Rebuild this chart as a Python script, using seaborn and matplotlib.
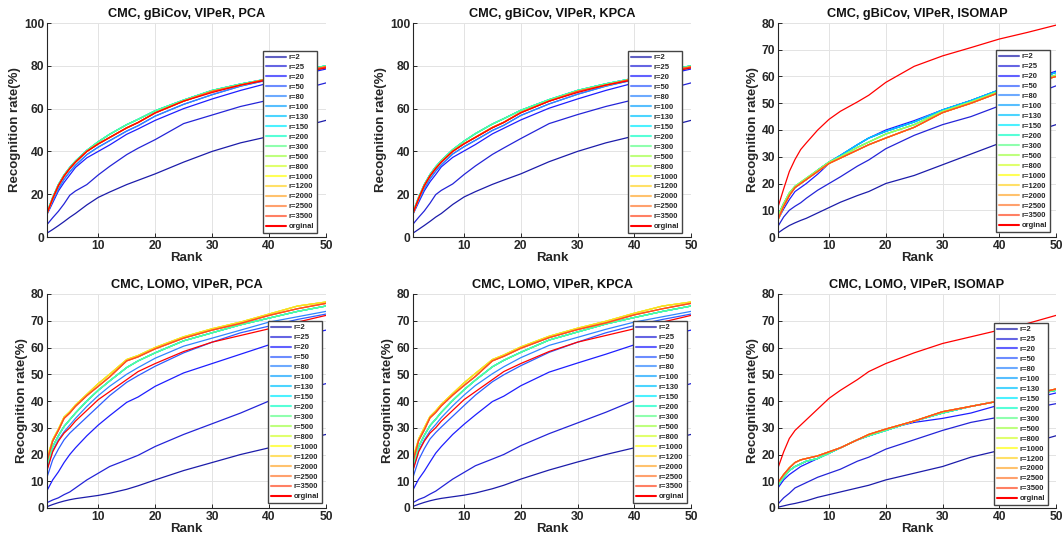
import matplotlib
matplotlib.use("Agg")
import matplotlib.pyplot as plt
import seaborn as sns
import pandas as pd

# ---------------- data ----------------
RANKS = [1, 2, 3, 4, 5, 6, 8, 10, 12, 15, 17, 20, 25, 30, 35, 40, 45, 50]

LABELS = ["r=2", "r=25", "r=20", "r=50", "r=80", "r=100", "r=130", "r=150", "r=200",
          "r=300", "r=500", "r=800", "r=1000", "r=1200", "r=2000", "r=2500", "r=3500", "orginal"]

COLORS = ["#1c1caa", "#2424d8", "#1e1eff", "#2e5cff", "#2f86ff", "#10a4ff", "#00c4ff",
          "#00ecff", "#10ffc8", "#60ff8c", "#a4ff48", "#d4ff30", "#ffff10", "#ffd428",
          "#ffa830", "#ff7a30", "#ff4a22", "#ff0000"]

TITLES = ["CMC, gBiCov, VIPeR, PCA", "CMC, gBiCov, VIPeR, KPCA", "CMC, gBiCov, VIPeR, ISOMAP",
          "CMC, LOMO, VIPeR, PCA", "CMC, LOMO, VIPeR, KPCA", "CMC, LOMO, VIPeR, ISOMAP"]

# gBiCov / PCA
gp_r2 = [1.8, 3.5, 5.3, 7.2, 9.2, 11.0, 15.0, 18.5, 21.0, 24.5, 26.5, 29.5, 35.0, 40.0, 44.0, 47.0, 51.0, 54.5]
gp_r25 = [5.8, 9.0, 12.0, 15.5, 19.5, 21.5, 24.5, 29.0, 33.0, 38.5, 41.5, 45.5, 53.0, 57.0, 61.0, 64.0, 68.5, 72.0]
gp_r20 = [10.5, 16.0, 21.5, 25.5, 29.0, 32.5, 37.0, 40.0, 43.0, 48.0, 50.5, 54.5, 60.0, 64.5, 68.5, 72.0, 75.5, 78.5]
gp_r50 = [10.8, 17.0, 22.5, 27.0, 30.5, 33.5, 38.5, 42.0, 45.0, 49.5, 52.0, 56.5, 62.0, 66.5, 70.5, 73.5, 76.5, 79.0]
gp_cool = [11.5, 18.5, 24.5, 29.0, 32.5, 35.5, 40.5, 44.5, 48.0, 52.5, 55.0, 59.0, 64.0, 68.5, 71.5, 74.0, 77.5, 80.0]
gp_warm = [11.0, 18.0, 24.0, 28.5, 32.0, 35.0, 40.0, 43.5, 46.5, 51.0, 53.5, 58.0, 63.5, 68.0, 71.0, 74.0, 77.0, 79.5]
gp_orig = [11.0, 18.0, 24.0, 28.5, 32.0, 35.0, 40.0, 43.5, 46.5, 51.0, 53.5, 58.0, 63.5, 67.5, 71.0, 73.5, 76.5, 79.0]

# gBiCov / KPCA
gk_r2 = [1.8, 3.6, 5.4, 7.3, 9.3, 11.0, 15.2, 18.7, 21.2, 24.6, 26.6, 29.5, 35.2, 40.0, 44.0, 47.2, 51.0, 54.5]
gk_r25 = [6.0, 9.2, 12.2, 15.8, 19.8, 21.8, 24.8, 29.2, 33.2, 38.6, 41.6, 46.0, 53.0, 57.2, 61.0, 64.2, 68.5, 72.0]
gk_r20 = [10.6, 16.2, 21.6, 25.8, 29.2, 32.8, 37.2, 40.2, 43.2, 48.2, 50.8, 54.7, 60.2, 64.5, 68.5, 72.0, 75.5, 78.5]
gk_r50 = [10.9, 17.2, 22.6, 27.2, 30.8, 33.8, 38.8, 42.2, 45.2, 49.8, 52.2, 56.8, 62.2, 66.7, 70.5, 73.5, 76.5, 79.0]
gk_cool = [11.6, 18.6, 24.6, 29.2, 32.8, 35.8, 40.8, 44.8, 48.3, 52.8, 55.3, 59.2, 64.2, 68.5, 71.6, 74.2, 77.5, 80.0]
gk_warm = [11.1, 18.1, 24.1, 28.6, 32.1, 35.1, 40.1, 43.6, 46.6, 51.2, 53.6, 58.2, 63.5, 68.0, 71.0, 74.0, 77.0, 79.5]
gk_orig = [11.0, 18.0, 24.0, 28.5, 32.0, 35.0, 40.0, 43.5, 46.5, 51.0, 53.5, 58.0, 63.5, 67.5, 71.0, 73.5, 76.5, 79.0]

# gBiCov / ISOMAP
gi_r2 = [1.5, 3.0, 4.3, 5.3, 6.2, 7.0, 9.0, 11.0, 13.0, 15.5, 17.0, 20.0, 23.0, 27.0, 31.0, 35.0, 38.5, 42.0]
gi_r25 = [4.0, 7.5, 10.0, 11.5, 12.8, 14.5, 17.5, 20.0, 22.5, 26.5, 28.8, 33.0, 38.0, 42.0, 45.0, 49.0, 52.5, 56.5]
gi_r20 = [6.5, 10.5, 14.0, 17.0, 18.5, 20.0, 23.5, 27.5, 30.5, 34.5, 37.0, 40.0, 43.5, 47.5, 51.0, 55.0, 58.5, 62.0]
gi_blue = [8.0, 12.5, 16.0, 18.5, 20.0, 21.5, 25.0, 28.0, 30.5, 34.5, 37.0, 39.5, 43.0, 47.5, 51.0, 55.0, 58.0, 61.5]
gi_cyan = [8.0, 12.5, 16.5, 19.0, 20.5, 22.0, 25.0, 28.0, 30.0, 33.5, 35.5, 38.5, 42.0, 47.0, 50.5, 54.5, 57.5, 60.5]
gi_warm = [6.5, 11.5, 15.5, 18.5, 20.0, 21.5, 24.5, 27.5, 29.5, 32.5, 34.5, 37.0, 41.0, 46.5, 50.0, 54.0, 57.0, 60.0]
gi_orig = [11.2, 18.0, 24.5, 29.0, 32.7, 35.2, 40.0, 44.0, 47.0, 50.5, 53.0, 57.8, 63.8, 67.7, 70.8, 74.0, 76.5, 79.2]

# LOMO / PCA
lp_r2 = [0.5, 1.3, 2.0, 2.6, 3.1, 3.5, 4.1, 4.7, 5.5, 7.0, 8.3, 10.5, 14.0, 17.0, 20.0, 22.5, 25.0, 27.5]
lp_r25 = [2.0, 3.0, 3.8, 5.0, 6.0, 7.5, 10.5, 13.0, 15.5, 18.0, 19.7, 23.0, 27.5, 31.5, 35.5, 40.0, 43.5, 46.5]
lp_r20 = [6.5, 10.5, 13.5, 17.0, 20.0, 22.5, 27.0, 31.0, 34.5, 39.5, 41.5, 45.5, 50.5, 54.0, 57.5, 61.0, 64.0, 66.5]
lp_r50 = [11.5, 18.0, 22.0, 25.5, 28.0, 30.0, 34.0, 38.0, 42.0, 47.0, 49.5, 53.0, 58.0, 62.0, 65.5, 68.0, 70.5, 72.5]
lp_r80 = [14.5, 21.5, 25.5, 28.5, 31.0, 33.5, 38.0, 42.0, 45.5, 50.0, 52.5, 56.0, 60.5, 63.5, 66.5, 69.5, 71.5, 73.5]
lp_cyan = [16.0, 23.0, 27.0, 30.5, 33.0, 35.5, 40.0, 44.0, 47.5, 52.5, 55.0, 58.0, 62.5, 65.5, 68.5, 71.0, 73.5, 75.5]
lp_top = [18.5, 25.5, 29.5, 34.0, 36.0, 38.5, 42.5, 46.5, 50.0, 55.5, 57.0, 60.0, 64.0, 67.0, 69.5, 72.5, 75.5, 77.0]
lp_warm = [17.5, 25.0, 29.0, 33.5, 35.5, 38.0, 42.0, 45.5, 49.0, 55.0, 56.5, 59.5, 63.5, 66.5, 69.0, 72.0, 74.5, 76.5]
lp_orig = [14.0, 21.0, 25.0, 28.0, 30.0, 32.5, 36.5, 40.5, 43.5, 48.0, 51.0, 54.0, 58.5, 62.0, 64.5, 67.0, 69.5, 72.0]

# LOMO / KPCA
lk_r2 = [0.6, 1.4, 2.1, 2.7, 3.2, 3.6, 4.2, 4.8, 5.6, 7.2, 8.5, 10.8, 14.2, 17.2, 20.0, 22.5, 25.0, 27.5]
lk_r25 = [2.0, 3.2, 4.0, 5.2, 6.3, 7.8, 10.8, 13.3, 15.8, 18.3, 20.0, 23.3, 27.8, 31.8, 35.8, 40.2, 43.5, 46.5]
lk_r20 = [6.8, 10.8, 13.8, 17.2, 20.5, 23.0, 27.5, 31.3, 34.8, 39.8, 41.8, 45.7, 50.8, 54.2, 57.5, 61.0, 64.0, 66.5]
lk_r50 = [11.5, 18.0, 22.2, 25.8, 28.2, 30.3, 34.3, 38.3, 42.2, 47.2, 49.8, 53.2, 58.2, 62.0, 65.5, 68.2, 70.5, 72.5]
lk_r80 = [14.5, 21.5, 25.5, 28.8, 31.2, 33.8, 38.2, 42.2, 45.8, 50.2, 52.8, 56.2, 60.8, 63.8, 66.8, 69.5, 71.5, 73.5]
lk_cyan = [16.0, 23.0, 27.2, 30.8, 33.2, 35.8, 40.2, 44.2, 47.8, 52.8, 55.2, 58.2, 62.8, 65.8, 68.8, 71.2, 73.5, 75.5]
lk_top = [18.5, 25.8, 30.0, 34.2, 36.3, 38.8, 42.8, 46.8, 50.3, 55.5, 57.2, 60.2, 64.2, 67.2, 69.8, 72.8, 75.5, 77.0]
lk_warm = [17.5, 25.2, 29.2, 33.7, 35.7, 38.2, 42.2, 45.8, 49.2, 55.0, 56.7, 59.7, 63.7, 66.7, 69.2, 72.2, 74.5, 76.5]
lk_orig = [14.0, 21.0, 25.0, 28.0, 30.0, 32.5, 36.5, 40.5, 43.5, 48.0, 51.0, 54.0, 58.5, 62.0, 64.5, 67.0, 69.5, 72.0]

# LOMO / ISOMAP
li_r2 = [0.3, 0.8, 1.3, 1.7, 2.2, 2.7, 4.0, 5.0, 6.0, 7.5, 8.5, 10.5, 13.0, 15.5, 19.0, 21.5, 24.0, 27.0]
li_r25 = [1.5, 3.8, 5.5, 7.5, 8.5, 9.5, 11.5, 13.0, 14.5, 17.5, 19.0, 22.0, 25.5, 29.0, 32.0, 34.0, 37.0, 39.0]
li_r20 = [7.5, 10.5, 12.5, 14.0, 15.5, 16.5, 18.5, 21.0, 22.5, 25.5, 27.0, 29.5, 32.0, 33.5, 35.5, 38.5, 40.5, 43.0]
li_cyan = [8.5, 11.5, 14.0, 15.5, 16.5, 17.5, 18.5, 20.5, 22.5, 25.5, 27.0, 29.0, 32.5, 35.5, 38.0, 40.0, 42.0, 44.0]
li_warm = [9.5, 12.5, 15.0, 17.0, 18.0, 18.5, 19.5, 21.0, 22.5, 25.5, 27.5, 29.5, 32.5, 36.0, 38.0, 40.0, 42.0, 44.5]
li_orig = [15.0, 21.0, 26.0, 29.0, 31.0, 33.0, 37.0, 41.0, 44.0, 48.0, 51.0, 54.0, 58.0, 61.5, 64.0, 66.5, 69.0, 72.0]

# which measured curve each legend entry follows (in LABELS order)
MAP_GP = [gp_r2, gp_r25, gp_r20, gp_r50, gp_r50] + [gp_cool] * 5 + [gp_warm] * 7 + [gp_orig]
MAP_GK = [gk_r2, gk_r25, gk_r20, gk_r50, gk_r50] + [gk_cool] * 5 + [gk_warm] * 7 + [gk_orig]
MAP_GI = [gi_r2, gi_r25, gi_r20] + [gi_blue] * 4 + [gi_cyan] * 4 + [gi_warm] * 6 + [gi_orig]
MAP_LP = [lp_r2, lp_r25, lp_r20, lp_r50, lp_r80] + [lp_cyan] * 5 + [lp_top] * 4 + [lp_warm] * 3 + [lp_orig]
MAP_LK = [lk_r2, lk_r25, lk_r20, lk_r50, lk_r80] + [lk_cyan] * 5 + [lk_top] * 4 + [lk_warm] * 3 + [lk_orig]
MAP_LI = [li_r2, li_r25, li_r20] + [li_cyan] * 7 + [li_warm] * 7 + [li_orig]
PANELS = [MAP_GP, MAP_GK, MAP_GI, MAP_LP, MAP_LK, MAP_LI]
YMAX = [100, 100, 80, 80, 80, 80]
YSTEP = [20, 20, 10, 10, 10, 10]

# ---------------- style ----------------
sns.set_style("whitegrid")
plt.rcParams["font.family"] = ["Liberation Sans", "DejaVu Sans"]
plt.rcParams["font.weight"] = "bold"

W, H = 1062, 545
fig = plt.figure(figsize=(W / 100, H / 100), dpi=100)

# axes boxes in pixels: left, top, right, bottom
BOXES = [(47, 23, 326, 237), (413, 23, 691, 237), (778, 23, 1056, 237),
         (47, 294, 326, 508), (413, 294, 691, 508), (778, 294, 1056, 508)]
LEG_ANCHOR = [(0.968, 0.019), (0.968, 0.019), (0.978, 0.023),
              (0.986, 0.023), (0.986, 0.023), (0.971, 0.014)]

DARK = "#262626"
for i, (l, t, r, b) in enumerate(BOXES):
    ax = fig.add_axes([l / W, 1 - b / H, (r - l) / W, (b - t) / H])
    curves = PANELS[i]
    frames = []
    for lab, cur in zip(LABELS, curves):
        frames.append(pd.DataFrame({"Rank": RANKS, "Rate": cur, "Series": lab}))
    df = pd.concat(frames, ignore_index=True)
    sns.lineplot(data=df, x="Rank", y="Rate", hue="Series", hue_order=LABELS,
                 palette=COLORS, linewidth=0.9, ax=ax, legend=False, sort=False)
    ax.set_xlim(1, 50)
    ax.set_ylim(0, YMAX[i])
    ax.set_xticks([10, 20, 30, 40, 50])
    ax.set_yticks(list(range(0, YMAX[i] + 1, YSTEP[i])))
    ax.grid(True, color="#e3e3e3", linewidth=0.7)
    for s in ["top", "right"]:
        ax.spines[s].set_visible(False)
    for s in ["left", "bottom"]:
        ax.spines[s].set_color(DARK)
        ax.spines[s].set_linewidth(0.8)
    ax.tick_params(axis="both", direction="in", length=3, width=0.7, colors=DARK,
                   labelsize=8.7, pad=2, bottom=True, left=True)
    for lbl in ax.get_xticklabels() + ax.get_yticklabels():
        lbl.set_fontweight("bold")
    ax.set_xlabel("Rank", fontsize=9.5, fontweight="bold", color=DARK, labelpad=0)
    ax.set_ylabel("Recognition rate(%)", fontsize=9.5, fontweight="bold", color=DARK, labelpad=2)
    ax.set_title(TITLES[i], fontsize=9.2, fontweight="bold", color="#111111", pad=4)

    handles = [plt.Line2D([], [], color=c, linewidth=1.5, alpha=(1.0 if k == 17 else 0.7))
               for k, c in enumerate(COLORS)]
    leg = ax.legend(handles, LABELS, loc="lower right", bbox_to_anchor=LEG_ANCHOR[i],
                    borderaxespad=0, prop={"weight": "bold", "size": 5.5},
                    handlelength=2.6, handletextpad=0.4, labelspacing=0.34,
                    borderpad=0.35, frameon=True, fancybox=False, framealpha=1)
    leg.get_frame().set_edgecolor("#444444")
    leg.get_frame().set_linewidth(1.0)

fig.savefig("out.png", dpi=100)
